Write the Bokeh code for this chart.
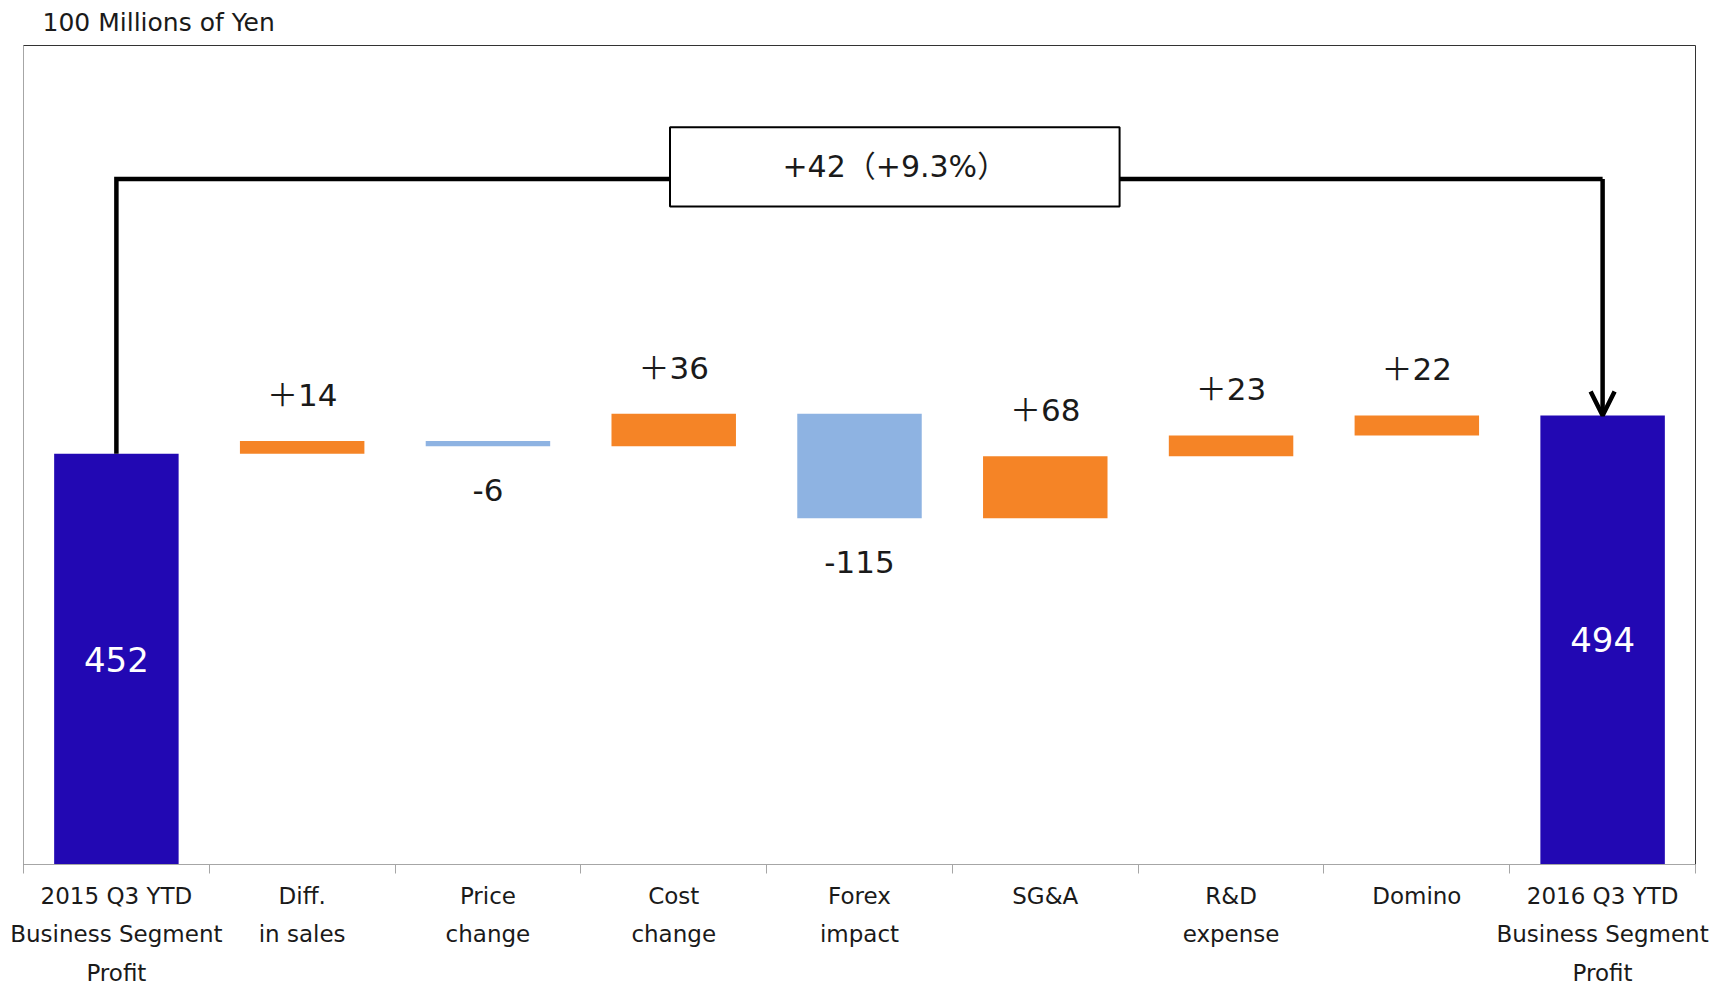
from bokeh.plotting import figure
from bokeh.models import Range1d, FixedTicker, Arrow, OpenHead
from bokeh.core.properties import value
from bokeh.embed import file_html
from bokeh.resources import INLINE

# --- data -------------------------------------------------------------
categories = [
    "2015 Q3 YTD\nBusiness Segment\nProfit",
    "Diff.\nin sales",
    "Price\nchange",
    "Cost\nchange",
    "Forex\nimpact",
    "SG&A",
    "R&D\nexpense",
    "Domino",
    "2016 Q3 YTD\nBusiness Segment\nProfit",
]
start_value = 452
changes = [14, -6, 36, -115, 68, 23, 22]
change_labels = ["＋14", "-6", "＋36", "-115", "＋68", "＋23", "＋22"]
end_value = 494
total_label = "+42（+9.3%）"
unit_label = "100 Millions of Yen"

# --- styling ----------------------------------------------------------
TOTAL_COLOR = "#2208B3"
UP_COLOR = "#F58426"
DOWN_COLOR = "#8EB3E2"
FONT = "DejaVu Sans, Noto Sans CJK JP"
BAR_WIDTH = 0.67
BRACKET_LEVEL = 754          # height of the comparison bracket
BOX = dict(left=3.48, right=5.90, bottom=724, top=811)

n = len(categories)
centers = [i + 0.5 for i in range(n)]
boundaries = [float(i) for i in range(n + 1)]

# waterfall geometry
step_bottom, step_top, step_color = [], [], []
running = start_value
for d in changes:
    nxt = running + d
    step_bottom.append(min(running, nxt))
    step_top.append(max(running, nxt))
    step_color.append(UP_COLOR if d > 0 else DOWN_COLOR)
    running = nxt

p = figure(
    width=1727, height=988,
    x_range=Range1d(0, n), y_range=Range1d(0, 901),
    output_backend="svg", toolbar_location=None,
    min_border_left=23, min_border_right=32,
    min_border_top=44, min_border_bottom=124,
)
p.grid.visible = False
p.outline_line_color = "#333333"
p.background_fill_color = "white"
p.border_fill_color = "white"

# unit caption
p.title.text = unit_label
p.title.text_font = "DejaVu Sans"
p.title.text_font_size = "25px"
p.title.text_font_style = "normal"
p.title.text_color = "#1a1a1a"
p.title.align = "left"
p.title.vertical_align = "top"
p.title.offset = 19
p.title.standoff = 14

# x axis: labels centered under bars, tick marks on category boundaries
xa = p.xaxis[0]
xa.ticker = FixedTicker(ticks=centers, minor_ticks=boundaries)
xa.major_label_overrides = {c: lab for c, lab in zip(centers, categories)}
xa.major_tick_in = 0
xa.major_tick_out = 0
xa.minor_tick_in = 0
xa.minor_tick_out = 9
xa.minor_tick_line_color = "#A6A6A6"
xa.axis_line_color = "#A6A6A6"
xa.major_label_text_font = "DejaVu Sans"
xa.major_label_text_font_size = "23px"
xa.major_label_text_color = "#1a1a1a"
xa.major_label_text_line_height = 1.49
xa.major_label_standoff = 9

# left frame edge drawn by an unlabeled y axis
ya = p.yaxis[0]
ya.ticker = FixedTicker(ticks=[])
ya.major_tick_in = 0
ya.major_tick_out = 0
ya.minor_tick_in = 0
ya.minor_tick_out = 0
ya.major_label_standoff = 0
ya.major_label_text_font_size = "0px"
ya.axis_line_color = "#A6A6A6"

# bars
p.vbar(x=[centers[0], centers[-1]], bottom=0, top=[start_value, end_value],
       width=BAR_WIDTH, fill_color=TOTAL_COLOR, line_color=None)
p.vbar(x=centers[1:-1], bottom=step_bottom, top=step_top,
       width=BAR_WIDTH, fill_color=step_color, line_color=None)

# value labels of the changes
up_x = [c for c, d in zip(centers[1:-1], changes) if d > 0]
up_y = [t for t, d in zip(step_top, changes) if d > 0]
up_t = [l for l, d in zip(change_labels, changes) if d > 0]
dn_x = [c for c, d in zip(centers[1:-1], changes) if d <= 0]
dn_y = [b for b, d in zip(step_bottom, changes) if d <= 0]
dn_t = [l for l, d in zip(change_labels, changes) if d <= 0]

label_style = dict(text_align="center", text_baseline="alphabetic",
                   text_font=value(FONT), text_font_size="31px", text_color="#1a1a1a")
p.text(x=up_x, y=up_y, text=up_t, y_offset=-46, **label_style)
p.text(x=dn_x, y=dn_y, text=dn_t, y_offset=44, **label_style)

# totals inside their bars
p.text(x=[centers[0], centers[-1]], y=[start_value / 2, end_value / 2],
       text=[str(start_value), str(end_value)],
       text_align="center", text_baseline="middle",
       text_font=value(FONT), text_font_size="34px", text_color="white")

# comparison bracket with arrow to the final total
p.line(x=[centers[0], centers[0], centers[-1]],
       y=[start_value, BRACKET_LEVEL, BRACKET_LEVEL],
       line_width=4.5, line_color="black", line_join="miter")
p.add_layout(Arrow(
    end=OpenHead(size=24, line_width=4.5, line_color="black"),
    x_start=centers[-1], y_start=BRACKET_LEVEL,
    x_end=centers[-1], y_end=end_value,
    line_width=4.5, line_color="black",
))
p.quad(fill_color="white", line_color="black", line_width=2, **BOX)
p.text(x=[(BOX["left"] + BOX["right"]) / 2], y=[(BOX["bottom"] + BOX["top"]) / 2],
       text=[total_label], text_align="center", text_baseline="middle",
       text_font=value(FONT), text_font_size="30px", text_color="#1a1a1a")

open("out.html", "w").write(file_html(p, INLINE))
